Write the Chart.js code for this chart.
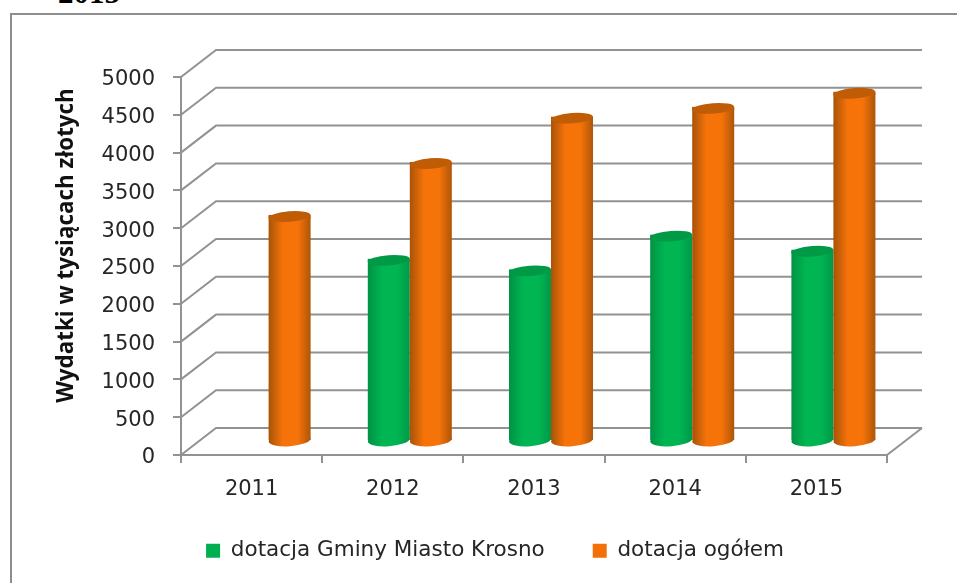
<!DOCTYPE html>
<html><head><meta charset="utf-8">
<style>html,body{margin:0;padding:0;background:#fff;overflow:hidden}
#c{position:absolute;left:0;top:0}
#clip{position:absolute;left:58px;top:-22px;font:bold 31px "Liberation Serif";color:#000;line-height:30px}</style>
<script src="https://cdn.jsdelivr.net/npm/chart.js@4"></script></head>
<body><div id="clip">2015</div><canvas id="c" width="957" height="583"></canvas>
<script>
const categories = ['2011','2012','2013','2014','2015'];
const dotacjaGminy = [null,2390,2250,2710,2510];
const dotacjaOgolem = [2970,3670,4270,4400,4600];
const seriesNames = ['dotacja Gminy Miasto Krosno','dotacja ogółem'];
const axisTitle = 'Wydatki w tysiącach złotych';
const yTicks = [0,500,1000,1500,2000,2500,3000,3500,4000,4500,5000];

const GRID='#929292', TEXT='#262626', FONT='"DejaVu Sans"';
const WALL_DX=35, WALL_DY=-27, BAR_DX=17, BAR_DY=-14, TILT=-0.075, RY=5.2;
const palette={
  green:{edgeL:'#009244',mid:'#00b552',edgeR:'#009848',top:'#009a47',flat:'#00b050'},
  orange:{edgeL:'#a85307',mid:'#f6730a',edgeR:'#ad5607',top:'#c15c06',flat:'#f37008'}
};
function sideFill(ctx,x0,x1,p){
  const g=ctx.createLinearGradient(x0,0,x1,0);
  g.addColorStop(0,p.edgeL);g.addColorStop(.34,p.mid);g.addColorStop(.7,p.mid);g.addColorStop(1,p.edgeR);return g;
}
function drawCylinders(chart,index){
  const ctx=chart.ctx,ds=chart.data.datasets[index],p=ds.cyl,meta=chart.getDatasetMeta(index);
  ctx.save();ctx.translate(BAR_DX,BAR_DY);
  meta.data.forEach((el,i)=>{
    if(ds.data[i]==null)return;
    const r=el.width/2,fill=sideFill(ctx,el.x-r,el.x+r,p);
    ctx.fillStyle=fill;
    ctx.beginPath();ctx.ellipse(el.x,el.base,r,RY+1,TILT,0,Math.PI*2);ctx.fill();
    el.options=Object.create(el.options,{backgroundColor:{value:fill}});
    el.draw(ctx);
    ctx.fillStyle=fill;
    ctx.fillRect(el.x-r,el.y-1.5,el.width,3);
    ctx.fillStyle=p.top;
    ctx.beginPath();ctx.ellipse(el.x,el.y,r,RY,TILT,0,Math.PI*2);ctx.fill();
  });
  ctx.restore();
}
const cylinder={
  id:'cylinder',
  beforeLayout(chart){
    const lg=chart.legend;
    if(!lg._wrapped){const f=lg.fit.bind(lg);lg.fit=function(){f();this.height=60;};lg._wrapped=true;}
  },
  afterLayout(chart){
    const lg=chart.legend;
    lg.top=492;lg.bottom=583;lg.left=0;lg.right=990;
  },
  beforeDraw(chart){
    const {ctx,chartArea:a,scales:{y}}=chart;
    ctx.save();
    ctx.strokeStyle='#8e8e8e';ctx.lineWidth=2;
    ctx.beginPath();ctx.moveTo(11,583);ctx.lineTo(11,14);ctx.lineTo(957,14);ctx.stroke();
    ctx.strokeStyle=GRID;ctx.lineWidth=2;
    yTicks.forEach(v=>{
      const py=y.getPixelForValue(v);
      ctx.beginPath();ctx.moveTo(a.left,py);ctx.lineTo(a.left+WALL_DX,py+WALL_DY);
      ctx.lineTo(a.right+WALL_DX,py+WALL_DY);ctx.stroke();
    });
    const p0=y.getPixelForValue(0);
    ctx.beginPath();ctx.moveTo(a.right,p0);ctx.lineTo(a.right+WALL_DX,p0+WALL_DY);ctx.stroke();
    ctx.translate(67,245.5);ctx.rotate(-Math.PI/2);
    ctx.fillStyle='#111';ctx.font='bold 22.4px "Open Sans"';ctx.textAlign='center';ctx.textBaseline='middle';
    ctx.fillText(axisTitle,0,0);
    ctx.restore();
  },
  beforeDatasetsDraw(chart){ drawCylinders(chart,0); drawCylinders(chart,1); },
  beforeDatasetDraw(){ return false; }
};
new Chart(document.getElementById('c'),{
  type:'bar',
  plugins:[cylinder],
  data:{labels:categories,datasets:[
    {label:seriesNames[0],data:dotacjaGminy,cyl:palette.green,backgroundColor:palette.green.mid,borderWidth:0,
     barPercentage:1,categoryPercentage:.595},
    {label:seriesNames[1],data:dotacjaOgolem,cyl:palette.orange,backgroundColor:palette.orange.mid,borderWidth:0,
     barPercentage:1,categoryPercentage:.595}
  ]},
  options:{
    responsive:false,animation:false,
    layout:{padding:{left:50,top:77,right:70,bottom:2}},
    plugins:{
      tooltip:{enabled:false},
      legend:{position:'bottom',labels:{
        font:{family:FONT,size:21.5},color:TEXT,boxWidth:14,boxHeight:14,padding:48,
        generateLabels(chart){return chart.data.datasets.map((d,i)=>({text:d.label,fillStyle:d.cyl.flat,strokeStyle:'transparent',lineWidth:0,datasetIndex:i,fontColor:TEXT}));}
      }}
    },
    scales:{
      x:{grid:{drawOnChartArea:false,color:GRID,lineWidth:2,tickLength:8,offset:true},border:{color:GRID,width:2},
         ticks:{color:TEXT,font:{family:FONT,size:21},padding:14,maxRotation:0},
         afterFit(s){s.height=66;}},
      y:{min:0,max:5000,grid:{drawOnChartArea:false,color:GRID,lineWidth:2,tickLength:8},border:{color:GRID,width:2},
         ticks:{stepSize:500,color:TEXT,font:{family:FONT,size:21},padding:18,labelOffset:3,callback:v=>String(v)},
         afterFit(s){s.width=131;}}
    }
  }
});
</script></body></html>
